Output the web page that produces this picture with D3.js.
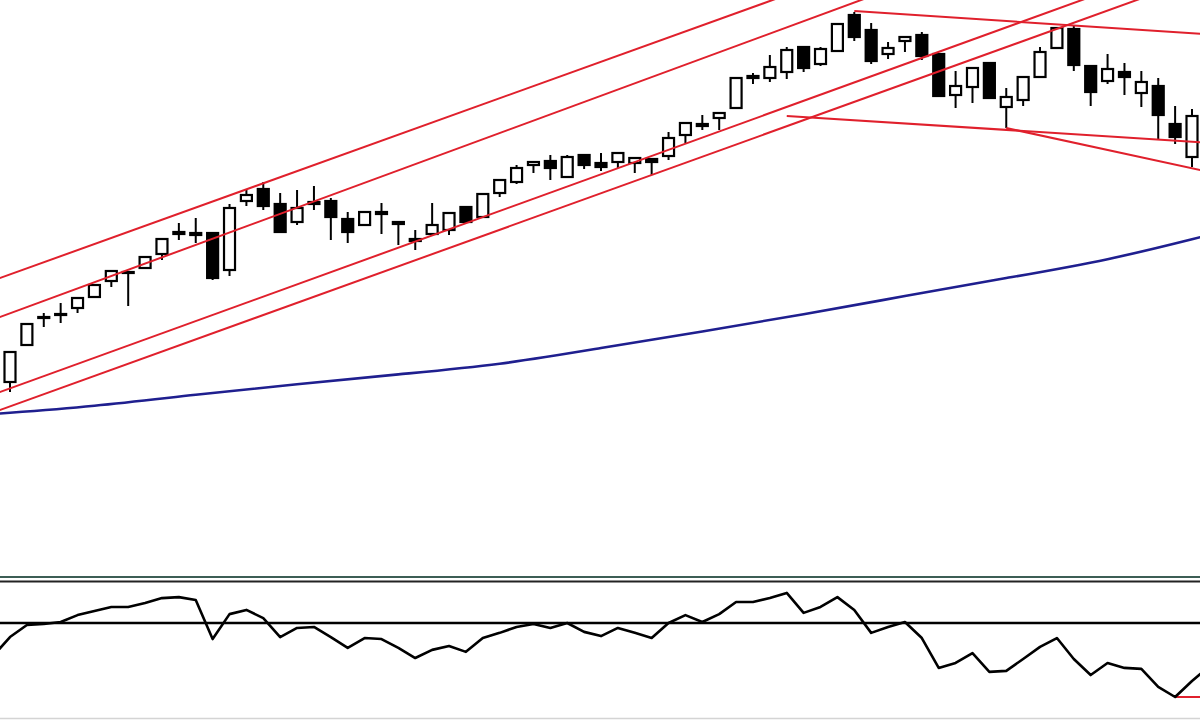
<!DOCTYPE html>
<html>
<head>
<meta charset="utf-8">
<script src="https://cdn.jsdelivr.net/npm/d3@7"></script>
<style>
html,body{margin:0;padding:0;background:#fff;overflow:hidden}
svg{display:block}
</style>
</head>
<body>
<svg id="chart" width="1200" height="720"></svg>
<script>
// ---- candle data (index 0..70) ----
const openP  = [618,655,683,686,692,703,719,727,732,746,768,767,767,730,799,811,796,778,798,799,781,775,788,778,761,766,770,793,783,807,818,835,839,823,845,837,838,837,841,844,865,876,882,892,924,922,928,953,936,949,985,970,946,959,965,946,905,913,937,893,900,923,952,971,934,919,928,907,914,876,843];
const highP  = [648,677,687,697,702,715,729,729,743,761,777,782,767,796,811,818,807,810,814,802,788,789,797,779,770,797,788,794,807,821,835,839,845,845,846,847,848,843,842,868,878,885,888,923,927,945,953,954,953,977,988,977,958,964,968,947,929,933,938,912,924,953,973,975,935,946,937,929,922,894,891];
const lowP   = [608,654,673,677,687,703,713,694,731,740,760,757,720,724,794,790,767,775,790,760,757,774,766,755,750,765,765,777,782,803,816,827,820,822,831,829,832,827,825,840,857,870,870,891,916,918,921,928,934,948,959,936,941,948,940,903,892,897,901,872,894,922,951,929,894,916,905,893,861,856,833];
const closeP = [648,676,682,685,702,715,729,728,743,761,766,765,722,792,805,794,768,792,796,783,768,788,786,776,759,775,787,778,806,820,832,838,832,843,835,833,847,842,838,862,877,874,887,922,922,933,950,932,951,976,963,939,952,963,944,904,914,932,902,903,923,948,972,935,908,931,923,918,885,863,884];

// ---- 200-period moving average (read at every 6th bar) ----
const maIndex = [-1,5,11,17,23,29,35,41,47,53,59,65,71];
const maValue = [586,593.5,605.5,615.7,625.8,635,652,668.5,685.5,704,722,739.5,765];

// ---- oscillator (starts at bar -1, runs past the last visible bar) ----
const rsiFirstIndex = -1;
const rsiValue = [46.6,54.3,59.2,59.6,60.4,63.2,64.9,66.5,66.5,68.1,70.1,70.5,69.3,53.5,63.6,65.3,62.0,54.3,58.0,58.4,54.3,49.9,53.9,53.5,49.9,45.8,49.1,50.7,48.3,53.9,56.0,58.4,59.6,58.0,60.0,56.4,54.7,58.0,56.0,53.9,60.0,63.2,60.4,63.6,68.5,68.5,70.1,72.2,64.1,66.5,70.5,65.3,56.0,58.4,60.4,53.9,41.8,43.8,47.8,40.2,40.6,45.4,50.3,53.9,45.4,38.9,43.8,41.8,41.4,34.1,30.0,36.5,42.2];
const rsiLevel = 60;

// ---- trendlines: [startIndex, startPrice, endIndex, endPrice] ----
const channelLines = [
  [-1,719.5,71,1157],
  [-1,680.5,71,1128],
  [-1,605.5,71,1046],
  [-1,587.5,71,1026]
];
const downLines = [
  [50,989,71,965.6],
  [46,884,71,857.3],
  [59,872,71,828]
];
const rsiSupport = [69,30,71,30];

// ---- drawing ----
const svg = d3.select("#chart");
const W = 1200;
const x = d3.scaleLinear().domain([0,70]).range([10,1192]);
const y = d3.scaleLinear().domain([1000,425]).range([0,575]);
const yR = d3.scaleLinear().domain([30,60]).range([697,623]);

const defs = svg.append("defs");
defs.append("clipPath").attr("id","pclip").append("rect").attr("x",0).attr("y",0).attr("width",W).attr("height",575);
defs.append("clipPath").attr("id","rclip").append("rect").attr("x",0).attr("y",583).attr("width",W).attr("height",134);

const price = svg.append("g").attr("clip-path","url(#pclip)");

// moving average
const maPts = maIndex.map((d,i)=>[d,maValue[i]]);
price.append("path")
  .attr("d", d3.line().x(d=>x(d[0])).y(d=>y(d[1])).curve(d3.curveBasis)(maPts))
  .attr("fill","none").attr("stroke","#1f1f8f").attr("stroke-width",2.6);

// candles
const bars = d3.range(openP.length).map(i=>({i,o:openP[i],h:highP[i],l:lowP[i],c:closeP[i]}));
const bw = 11;
const cg = price.append("g");
cg.selectAll("line.wick").data(bars).join("line")
  .attr("class","wick")
  .attr("x1",d=>x(d.i)).attr("x2",d=>x(d.i))
  .attr("y1",d=>y(d.h)).attr("y2",d=>y(d.l))
  .attr("stroke","#000").attr("stroke-width",2);
cg.selectAll("rect.body").data(bars).join("rect")
  .attr("class","body")
  .attr("x",d=>x(d.i)-bw/2)
  .attr("y",d=>y(Math.max(d.o,d.c)))
  .attr("width",bw)
  .attr("height",d=>Math.max(1,Math.abs(y(d.o)-y(d.c))))
  .attr("fill",d=>d.c>=d.o?"#fff":"#000")
  .attr("stroke","#000").attr("stroke-width",2.2);

// red trendlines
const lg = price.append("g");
lg.selectAll("line").data(channelLines.concat(downLines)).join("line")
  .attr("x1",d=>x(d[0])).attr("y1",d=>y(d[1]))
  .attr("x2",d=>x(d[2])).attr("y2",d=>y(d[3]))
  .attr("stroke","#e0202c").attr("stroke-width",2);

// panel separators
svg.append("line").attr("x1",0).attr("x2",W).attr("y1",577).attr("y2",577).attr("stroke","#3c5e55").attr("stroke-width",2);
svg.append("line").attr("x1",0).attr("x2",W).attr("y1",581.5).attr("y2",581.5).attr("stroke","#222").attr("stroke-width",2);
svg.append("line").attr("x1",0).attr("x2",W).attr("y1",718.5).attr("y2",718.5).attr("stroke","#d4d4d4").attr("stroke-width",1.5);

// oscillator panel
const rg = svg.append("g").attr("clip-path","url(#rclip)");
rg.append("line").attr("x1",0).attr("x2",W).attr("y1",yR(rsiLevel)).attr("y2",yR(rsiLevel))
  .attr("stroke","#000").attr("stroke-width",2.6);
rg.append("line")
  .attr("x1",x(rsiSupport[0])).attr("y1",yR(rsiSupport[1]))
  .attr("x2",x(rsiSupport[2])).attr("y2",yR(rsiSupport[3]))
  .attr("stroke","#e0202c").attr("stroke-width",2);
rg.append("path")
  .attr("d", d3.line().x((d,i)=>x(i+rsiFirstIndex)).y(d=>yR(d))(rsiValue))
  .attr("fill","none").attr("stroke","#000").attr("stroke-width",2.6).attr("stroke-linejoin","round");
</script>
</body>
</html>
